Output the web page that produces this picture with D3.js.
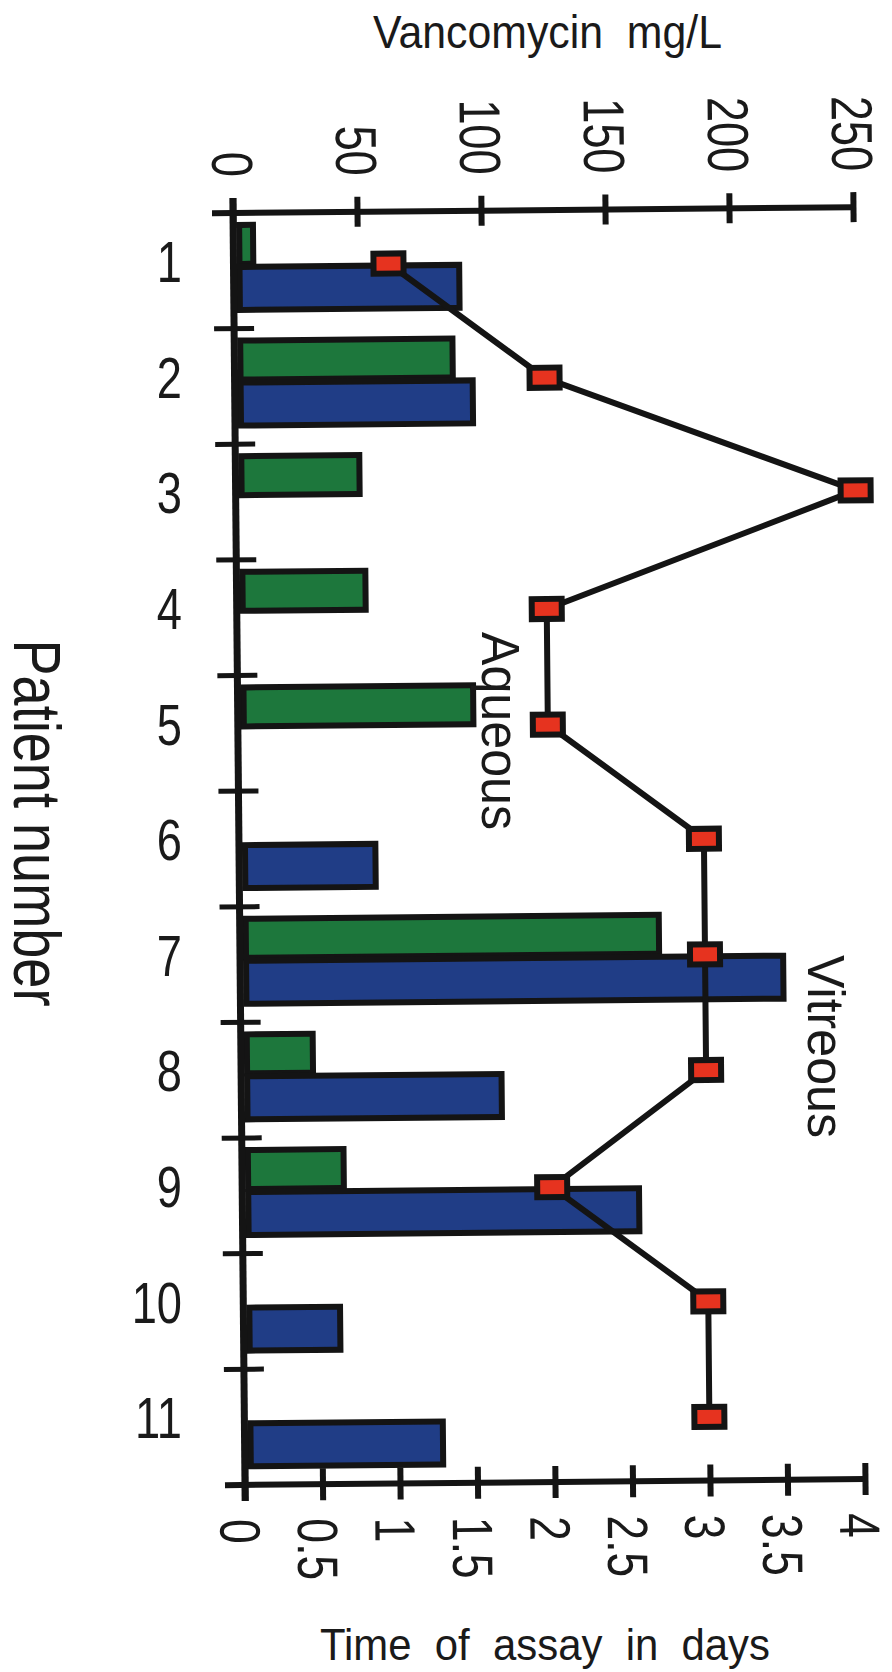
<!DOCTYPE html>
<html>
<head>
<meta charset="utf-8">
<script src="https://cdn.jsdelivr.net/npm/d3@7"></script>
<style>
  html, body { margin: 0; padding: 0; background: #ffffff; }
  svg { display: block; }
  text { font-family: "Liberation Sans", Arial, sans-serif; fill: #1a1a1a; }
</style>
</head>
<body>
<div id="chart"></div>
<script>
// ---- data ----
const patients = ["1", "2", "3", "4", "5", "6", "7", "8", "9", "10", "11"];
const aqueous  = [8, 88, 50, 52, 95, null, 169, 29, 41, null, null];      // mg/L
const vitreous = [91, 96, null, null, null, 55, 219, 105, 160, 39, 80];   // mg/L
const assayDays = [1, 2, 4, 2, 2, 3, 3, 3, 2, 3, 3];                      // days
const mgTicks = [0, 50, 100, 150, 200, 250];
const dayTicks = [0, 0.5, 1, 1.5, 2, 2.5, 3, 3.5, 4];
const titleTop = "Vancomycin  mg/L";
const titleBottom = "Time of assay in days";
const titleLeft = "Patient number";

// ---- layout ----
const W = 892, H = 1672;
const ox = 233, oy = 213;          // plot origin (top-left corner)
const plotW = 620, plotH = 1272;
const tilt = -0.54;                // slight rotation of the scanned figure

const svg = d3.select("#chart").append("svg").attr("width", W).attr("height", H);
svg.append("rect").attr("width", W).attr("height", H).attr("fill", "#ffffff");

const x = d3.scaleLinear().domain([0, 250]).range([0, plotW]);
const xd = d3.scaleLinear().domain([0, 4]).range([0, plotW]);
const y = d3.scaleBand().domain(patients).range([0, plotH]).padding(0);

const ink = "#141414";
const green = "#1d773c", blue = "#203d86", red = "#e6331f";

const g = svg.append("g").attr("transform", `translate(${ox},${oy}) rotate(${tilt})`);

// ---- bars ----
const rows = patients.map((p, i) => ({ p, aq: aqueous[i], vi: vitreous[i], d: assayDays[i] }));
const barStart = 6;
g.selectAll("rect.aq").data(rows.filter(r => r.aq != null)).join("rect")
  .attr("class", "aq")
  .attr("x", barStart).attr("y", r => y(r.p) + 12)
  .attr("width", r => x(r.aq) - barStart).attr("height", 39)
  .attr("fill", green).attr("stroke", ink).attr("stroke-width", 6);
g.selectAll("rect.vi").data(rows.filter(r => r.vi != null)).join("rect")
  .attr("class", "vi")
  .attr("x", barStart).attr("y", r => y(r.p) + 54)
  .attr("width", r => x(r.vi) - barStart).attr("height", 43)
  .attr("fill", blue).attr("stroke", ink).attr("stroke-width", 6);

// ---- axes ----
// vertical axis
g.append("line").attr("x1", 0).attr("x2", 0).attr("y1", -15).attr("y2", plotH + 16)
  .attr("stroke", ink).attr("stroke-width", 7);
// patient boundary ticks
g.selectAll("line.pt").data(patients.slice(1)).join("line")
  .attr("class", "pt")
  .attr("x1", -20).attr("x2", 20)
  .attr("y1", p => y(p)).attr("y2", p => y(p))
  .attr("stroke", ink).attr("stroke-width", 5);

// top axis (mg/L)
const topAx = g.append("g").call(d3.axisTop(x).tickValues(mgTicks).tickSize(15).tickSizeOuter(0).tickFormat(d => String(d)));
topAx.select(".domain").remove();
topAx.selectAll(".tick line").attr("y1", 15).attr("y2", -15).attr("stroke", ink).attr("stroke-width", 6);
topAx.selectAll(".tick text")
  .attr("x", null).attr("y", null).attr("dy", "0.36em")
  .attr("transform", "translate(0,-36) rotate(90) scale(0.78,1)")
  .attr("text-anchor", "end")
  .attr("font-size", 58).attr("fill", ink);
g.append("line").attr("x1", -21).attr("x2", plotW).attr("y1", 0).attr("y2", 0)
  .attr("stroke", ink).attr("stroke-width", 6);

// bottom axis (days)
const botAx = g.append("g").attr("transform", `translate(0,${plotH})`)
  .call(d3.axisBottom(xd).tickValues(dayTicks).tickSize(16).tickSizeOuter(0).tickFormat(d => String(d)));
botAx.select(".domain").remove();
botAx.selectAll(".tick line").attr("y1", -16).attr("y2", 16).attr("stroke", ink).attr("stroke-width", 6);
botAx.selectAll(".tick text")
  .attr("x", null).attr("y", null).attr("dy", "0.45em")
  .attr("transform", "translate(0,34) rotate(90) scale(0.78,1)")
  .attr("text-anchor", "start")
  .attr("font-size", 57).attr("fill", ink);
g.append("line").attr("x1", -20).attr("x2", plotW).attr("y1", plotH).attr("y2", plotH)
  .attr("stroke", ink).attr("stroke-width", 6);

// ---- assay-time line with markers ----
const markerY = r => y(r.p) + 52;
g.append("path").datum(rows)
  .attr("d", d3.line().x(r => xd(r.d)).y(markerY))
  .attr("fill", "none").attr("stroke", ink).attr("stroke-width", 6).attr("stroke-linejoin", "miter");
g.selectAll("rect.mk").data(rows).join("rect")
  .attr("class", "mk")
  .attr("x", r => xd(r.d) - 15).attr("y", r => markerY(r) - 10)
  .attr("width", 30).attr("height", 20)
  .attr("fill", red).attr("stroke", ink).attr("stroke-width", 6);

// ---- patient numbers ----
svg.selectAll("text.pn").data(patients).join("text")
  .attr("class", "pn")
  .attr("transform", p => `translate(182,${oy + y(p) + 69}) scale(0.78,1)`)
  .attr("text-anchor", "end")
  .attr("font-size", 58)
  .text(p => p);

// ---- titles ----
svg.append("text").attr("x", 373).attr("y", 48)
  .attr("font-size", 46).attr("textLength", 349).attr("lengthAdjust", "spacingAndGlyphs")
  .style("white-space", "pre")
  .text(titleTop);
svg.append("text").attr("x", 320).attr("y", 1660)
  .attr("font-size", 45).attr("textLength", 450).attr("lengthAdjust", "spacingAndGlyphs")
  .style("white-space", "pre")
  .text(titleBottom.split(" ").join("  "));
svg.append("text").attr("transform", "translate(14,823) rotate(90)")
  .attr("text-anchor", "middle").attr("font-size", 66)
  .attr("textLength", 367).attr("lengthAdjust", "spacingAndGlyphs")
  .text(titleLeft);

// series labels
svg.append("text").attr("transform", "translate(482,632) rotate(90)")
  .attr("font-size", 53).attr("textLength", 198).attr("lengthAdjust", "spacingAndGlyphs")
  .text("Aqueous");
svg.append("text").attr("transform", "translate(808,955) rotate(90)")
  .attr("font-size", 52).attr("textLength", 183).attr("lengthAdjust", "spacingAndGlyphs")
  .text("Vitreous");
</script>
</body>
</html>
